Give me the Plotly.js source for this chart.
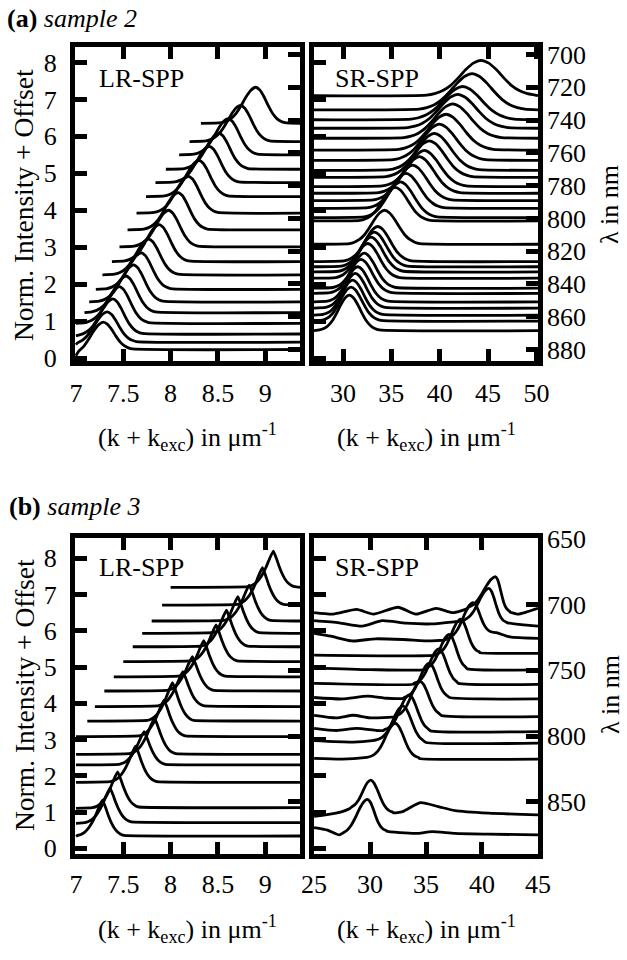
<!DOCTYPE html>
<html><head><meta charset="utf-8">
<script src="https://cdn.plot.ly/plotly-3.0.1.min.js"></script>
<style>html,body{margin:0;padding:0;background:#fff}</style>
</head><body><div id="chart" style="width:627px;height:960px"></div>
<script>
// ---------- peak shapes (fraction of peak height vs offset in width units)
const shapeOffsets = [-2.8,-2.4,-2.0,-1.6,-1.2,-0.8,-0.4,0,0.4,0.8,1.2,1.6,2.0,2.4,2.8];
const roundHeights = [0.02,0.06,0.14,0.28,0.49,0.73,0.92,1,0.92,0.73,0.49,0.28,0.14,0.06,0.02];
const sharpHeights = [0.02,0.05,0.11,0.21,0.36,0.56,0.80,1,0.80,0.56,0.36,0.21,0.11,0.05,0.02];

// ---------- (a) sample 2, LR-SPP
const aLR_start = [8.32,8.20,8.09,7.95,7.84,7.74,7.64,7.545,7.46,7.38,7.28,7.21,7.14,7.09,7.0,7.0,7.0,7.0];
const aLR_baseL = [6.35,5.86,5.50,5.11,4.75,4.37,3.92,3.47,3.01,2.61,2.25,1.86,1.52,1.23,0.94,0.60,0.36,0.06];
const aLR_peakX = [8.90,8.74,8.61,8.51,8.41,8.30,8.19,8.08,7.98,7.88,7.77,7.69,7.61,7.53,7.46,7.39,7.33,7.29];
const aLR_peakY = [7.33,6.84,6.48,6.09,5.73,5.35,4.92,4.48,4.00,3.61,3.22,2.85,2.52,2.22,1.93,1.60,1.25,0.97];
const aLR_baseR = [6.35,5.86,5.50,5.11,4.75,4.37,3.92,3.47,3.01,2.61,2.25,1.86,1.52,1.23,0.94,0.65,0.43,0.23];
const aLR_wL = 0.13, aLR_wR = 0.11;

// ---------- (a) sample 2, SR-SPP
const aSR_peakX = [44.27,43.34,42.37,41.86,41.34,40.65,39.96,39.44,38.92,38.41,37.89,37.20,36.51,35.95,35.40,34.30,33.59,33.24,32.90,32.55,32.20,31.86,31.52,31.27,31.00,30.83,30.65];
const aSR_peakY = [8.06,7.70,7.35,7.14,6.88,6.60,6.33,6.08,5.88,5.62,5.45,5.22,5.00,4.77,4.62,4.00,3.56,3.41,3.27,3.10,2.84,2.67,2.47,2.29,2.11,1.92,1.70];
const aSR_base  = [7.10,6.72,6.45,6.22,5.95,5.63,5.35,5.08,4.89,4.64,4.46,4.26,4.05,3.80,3.71,3.08,2.61,2.47,2.33,2.16,1.89,1.75,1.52,1.35,1.16,1.00,0.74];
const aSR_width = [2.0,1.95,1.9,1.85,1.8,1.75,1.7,1.65,1.6,1.55,1.5,1.45,1.4,1.35,1.3,1.3,1.25,1.22,1.2,1.18,1.16,1.14,1.12,1.1,1.1,1.1,1.1];

// ---------- (b) sample 3, LR-SPP
const bLR_start = [8.00,7.91,7.80,7.70,7.60,7.50,7.40,7.30,7.20,7.12,7.0,7.0,7.0,7.0,7.0,7.0,7.0];
const bLR_baseL = [7.20,6.71,6.27,5.93,5.56,5.15,4.73,4.34,3.91,3.51,3.08,2.59,2.30,1.82,1.10,0.69,0.33];
const bLR_peakX = [9.085,8.97,8.83,8.71,8.59,8.48,8.35,8.23,8.13,8.02,7.93,7.83,7.72,7.63,7.44,7.36,7.28];
const bLR_peakY = [8.20,7.74,7.26,6.94,6.57,6.16,5.73,5.29,4.87,4.57,4.09,3.59,3.22,2.82,2.11,1.66,1.33];
const bLR_baseR = [7.20,6.71,6.27,5.93,5.56,5.15,4.73,4.34,3.91,3.51,3.08,2.59,2.30,1.82,1.12,0.71,0.34];
const bLR_wL = 0.095, bLR_wR = 0.08;

// ---------- (b) sample 3, SR-SPP (wavy baselines)
const bSR_leftX = [
 [25.0,26.7,28.8,30.3,32.5,34.1,35.9,37.4,38.6],
 [25.0,27.25,29.3,31.1,33.2,35.5,37.6],
 [25.0,26.5,28.4,30.5,33.0,35.5,36.8],
 [25.0,35.8],
 [25.0,30.0,34.9],
 [25.0,33.9],
 [25.0,27.5,29.8,31.5,33.0],
 [25.0,27.0,28.5,30.0,32.2],
 [25.0,27.0,28.8,30.6,31.2],
 [25.0,28.5,30.2],
 [25.0,27.5,29.5],
 [25.0,26.95,28.2],
 [25.0,26.2,27.25]];
const bSR_leftY = [
 [6.50,6.46,6.59,6.46,6.65,6.46,6.62,6.50,6.60],
 [6.28,6.22,6.13,6.28,6.21,6.19,6.25],
 [5.93,5.85,5.72,5.78,5.76,5.72,5.76],
 [5.33,5.33],
 [4.98,4.93,4.93],
 [4.55,4.53],
 [4.16,4.12,4.20,4.14,4.14],
 [3.67,3.60,3.67,3.60,3.63],
 [3.31,3.25,3.31,3.25,3.25],
 [2.97,2.93,2.97],
 [2.48,2.46,2.50],
 [0.88,0.97,1.10],
 [0.57,0.50,0.37]];
const bSR_peakX = [41.22,40.63,39.2,38.1,37.08,36.15,35.30,34.5,33.5,32.93,32.25,30.06,29.77];
const bSR_peakY = [7.49,7.17,6.78,6.32,5.90,5.50,5.11,4.60,4.23,3.93,3.45,1.88,1.35];
const bSR_wL = [1.0,0.9,0.85,0.8,0.8,0.8,0.8,0.8,0.8,0.85,0.85,0.7,0.9];
const bSR_wR = [0.45,0.55,0.6,0.6,0.6,0.65,0.65,0.7,0.7,0.75,0.75,0.7,0.6];
const bSR_rightX = [
 [42.5,43.2,44.0,45.01],
 [42.3,43.5,45.01],
 [41.3,42.5,45.01],
 [39.8,45.01],
 [38.7,45.01],
 [37.9,45.01],
 [37.1,40.0,45.01],
 [36.4,45.01],
 [35.4,45.01],
 [35.0,45.01],
 [34.4,45.01],
 [32.1,32.9,34.5,36.1,37.6,40.6,45.01],
 [31.5,34.06,35.54,37.6,40.57,45.01]];
const bSR_rightY = [
 [6.52,6.46,6.52,6.62],
 [6.22,6.17,6.13],
 [5.95,5.83,5.79],
 [5.40,5.38],
 [4.95,4.92],
 [4.55,4.52],
 [4.16,4.12,4.12],
 [3.66,3.63],
 [3.24,3.22],
 [2.92,2.90],
 [2.48,2.46],
 [0.98,1.01,1.26,1.15,1.04,0.97,0.92],
 [0.47,0.41,0.46,0.41,0.39,0.37]];

// ---------- axis ticks
const lrTicks = [7,7.5,8,8.5,9];
const aSrTicks = [30,35,40,45,50];
const bSrTicks = [25,30,35,40,45];
const intTicks = [0,1,2,3,4,5,6,7,8];
const aLambdaTicks = [700,720,740,760,780,800,820,840,860,880];
const bLambdaTicks = [650,700,750,800,850];

// ---------- build
const FONT = 'Liberation Serif, Times New Roman, serif';
function buildCurve(leftX, leftY, px, py, wL, wR, rightX, rightY, heights){
  const xs = leftX.slice(), ys = leftY.slice();
  const xl = leftX[leftX.length-1], bL = leftY[leftY.length-1];
  const xr = rightX[0], bR = rightY[0];
  for (let k=0;k<shapeOffsets.length;k++){
    const d = shapeOffsets[k];
    const x = px + d*(d<0?wL:wR);
    if (x <= xl || x >= xr) continue;
    const b = d<0 ? bL : bR;
    xs.push(x); ys.push(d===0 ? py : b + (py-b)*heights[k]);
  }
  return {x: xs.concat(rightX), y: ys.concat(rightY)};
}
const traces = [];
function addLine(c, xa, ya, smooth){
  traces.push({x:c.x, y:c.y, xaxis:xa, yaxis:ya, mode:'lines', type:'scatter',
    line:{color:'#000', width:2.8, shape:'spline', smoothing:smooth}, hoverinfo:'skip', showlegend:false});
}
const LR_END = 9.37, ASR_START = 27.0, ASR_END = 50.16;
aLR_peakX.forEach((p,i)=> addLine(buildCurve([aLR_start[i]],[aLR_baseL[i]],p,aLR_peakY[i],aLR_wL,aLR_wR,[LR_END],[aLR_baseR[i]],roundHeights),'x','y',0.6));
aSR_peakX.forEach((p,i)=> addLine(buildCurve([ASR_START],[aSR_base[i]],p,aSR_peakY[i],aSR_width[i],aSR_width[i],[ASR_END],[aSR_base[i]],roundHeights),'x2','y2',0.6));
bLR_peakX.forEach((p,i)=> addLine(buildCurve([bLR_start[i]],[bLR_baseL[i]],p,bLR_peakY[i],bLR_wL,bLR_wR,[LR_END],[bLR_baseR[i]],sharpHeights),'x3','y3',0.4));
bSR_peakX.forEach((p,i)=> addLine(buildCurve(bSR_leftX[i],bSR_leftY[i],p,bSR_peakY[i],bSR_wL[i],bSR_wR[i],bSR_rightX[i],bSR_rightY[i],roundHeights),'x4','y4',0.6));
// empty traces so the wavelength axes exist
[['x','y5'],['x2','y6'],['x3','y7'],['x4','y8']].forEach(p=>traces.push({x:[],y:[],xaxis:p[0],yaxis:p[1],type:'scatter',mode:'lines',showlegend:false,hoverinfo:'skip'}));

const W=627, H=960;
const px = v=>v/W, py = v=>1-v/H;
const tf = {family:FONT, size:26, color:'#000'};
const base = {showline:true, linecolor:'#000', linewidth:5, ticks:'inside', ticklen:12, tickwidth:5, tickcolor:'#000',
  showgrid:false, zeroline:false, tickfont:tf, fixedrange:true, tickmode:'array'};
const lam = {ticks:'inside', ticklen:12, tickwidth:5, tickcolor:'#000', showline:false, showgrid:false, zeroline:false,
  tickfont:tf, fixedrange:true, tickmode:'array', side:'right'};
const dxL=[px(75),px(300.3)], dxR=[px(314),px(538)];
const dyA=[py(361),py(47)], dyB=[py(853.5),py(538)];
const layout = {
  width:W, height:H, margin:{l:0,r:0,t:0,b:0}, paper_bgcolor:'#fff', plot_bgcolor:'#fff', showlegend:false,
  font:{family:FONT, color:'#000'},
  xaxis: Object.assign({}, base, {domain:dxL, range:[6.99,LR_END], tickvals:lrTicks, mirror:'ticks', anchor:'y', ticklabelstandoff:5}),
  yaxis: Object.assign({}, base, {domain:dyA, range:[-0.081,8.42], tickvals:intTicks, mirror:true, anchor:'x', ticklabelstandoff:8}),
  xaxis2: Object.assign({}, base, {domain:dxR, range:[ASR_START,ASR_END], tickvals:aSrTicks, mirror:'ticks', anchor:'y2', ticklabelstandoff:5}),
  yaxis2: Object.assign({}, base, {domain:dyA, range:[-0.081,8.42], tickvals:intTicks, mirror:true, anchor:'x2', showticklabels:false}),
  xaxis3: Object.assign({}, base, {domain:dxL, range:[6.99,LR_END], tickvals:lrTicks, mirror:'ticks', anchor:'y3', ticklabelstandoff:3}),
  yaxis3: Object.assign({}, base, {domain:dyB, range:[-0.143,8.56], tickvals:intTicks, mirror:true, anchor:'x3', ticklabelstandoff:8}),
  xaxis4: Object.assign({}, base, {domain:dxR, range:[24.99,45.01], tickvals:bSrTicks, mirror:'ticks', anchor:'y4', ticklabelstandoff:3}),
  yaxis4: Object.assign({}, base, {domain:dyB, range:[-0.143,8.56], tickvals:intTicks, mirror:true, anchor:'x4', showticklabels:false}),
  yaxis5: Object.assign({}, lam, {overlaying:'y', anchor:'x', range:[887,695.4], tickvals:aLambdaTicks, showticklabels:false}),
  yaxis6: Object.assign({}, lam, {overlaying:'y2', anchor:'x2', range:[887,695.4], tickvals:aLambdaTicks, ticklabelstandoff:8}),
  yaxis7: Object.assign({}, lam, {overlaying:'y3', anchor:'x3', range:[889.2,649.5], tickvals:bLambdaTicks, showticklabels:false}),
  yaxis8: Object.assign({}, lam, {overlaying:'y4', anchor:'x4', range:[889.2,649.5], tickvals:bLambdaTicks, ticklabelstandoff:8}),
  annotations: []
};
function ann(text, x, y, opts){ layout.annotations.push(Object.assign({text, x:px(x), y:py(y), xref:'paper', yref:'paper', showarrow:false,
  xanchor:'center', yanchor:'middle', font:{family:FONT, size:26, color:'#000'}}, opts||{})); }
ann('<b>(a)</b> <i>sample 2</i>', 5, 18, {xanchor:'left'});
ann('<b>(b)</b> <i>sample 3</i>', 7, 507, {xanchor:'left'});
ann('LR-SPP', 97, 78, {xanchor:'left'});
ann('SR-SPP', 333, 78, {xanchor:'left'});
ann('LR-SPP', 97, 567, {xanchor:'left'});
ann('SR-SPP', 333, 567, {xanchor:'left'});
const yTitleFont = {family:FONT, size:27.5, color:'#000'};
ann('Norm. Intensity + Offset', 24, 205, {textangle:-90, font:yTitleFont});
ann('Norm. Intensity + Offset', 24, 695, {textangle:-90, font:yTitleFont});
ann('λ in nm', 610, 205, {textangle:-90});
ann('λ in nm', 610, 695, {textangle:-90});
const xt = '(k + k<sub>exc</sub>) in μm<sup>-1</sup>';
ann(xt, 187.6, 437); ann(xt, 426, 437);
ann(xt, 187.6, 929); ann(xt, 426, 929);

Plotly.newPlot('chart', traces, layout, {displayModeBar:false, staticPlot:true});
</script></body></html>
